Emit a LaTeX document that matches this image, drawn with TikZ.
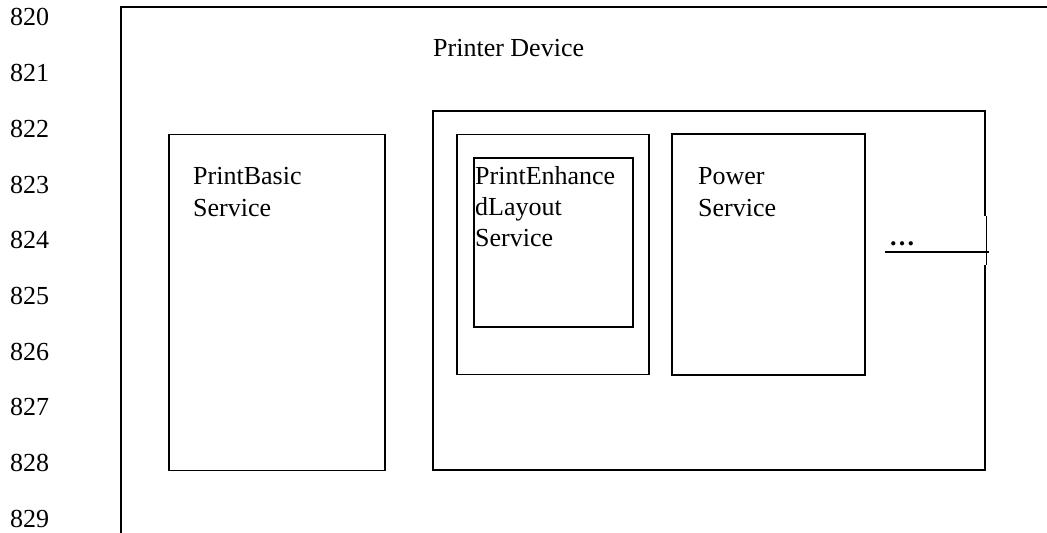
\documentclass[tikz,border=0pt]{standalone}
\usepackage{fontspec}
\setmainfont{Liberation Serif}
\usetikzlibrary{calc}

\tikzset{
  frame/.style={line width=1.6bp, line join=miter},
  box/.style={draw, line width=1.6bp, inner sep=0pt, outer sep=0pt},
  hollow/.style={inner sep=0pt, outer sep=0pt},
  label text/.style={inner sep=0pt, anchor=base west, font=\fontsize{26bp}{32bp}\selectfont},
  lnum/.style={label text},
}

\begin{document}
\begin{tikzpicture}[x=1bp, y=-1bp]
  \useasboundingbox (0,0) rectangle (1047,533);

  % line numbers in the margin
  \foreach \n [count=\i from 0] in {820,...,829}
    \node[lnum] (ln\n) at (10, 26+55.7*\i) {\n};

  % outer frame of the device (open to the right and bottom)
  \coordinate (devTR) at (1047,7);
  \coordinate (devTL) at (121,7);
  \coordinate (devBL) at (121,533);
  \draw[frame] (devTR) -- (devTL) -- (devBL);
  \node[label text] (devname) at (433,57) {Printer Device};

  % basic service
  \node[box, minimum width=216bp, minimum height=336bp] (basic) at (277,302.5) {};
  \node[label text] (basic1) at (193,185) {PrintBasic};
  \node[label text] (basic2) at (193,217) {Service};

  % group of optional services, right edge interrupted
  \node[hollow, minimum width=552bp, minimum height=359bp] (grp) at (709,290.5) {};
  \draw[frame] (grp.east |- 0,216) -- (grp.north east) -- (grp.north west)
    -- (grp.south west) -- (grp.south east) -- (grp.east |- 0,265);
  \draw[line width=0.8bp] ($(grp.east |- 0,216)+(1,0)$) -- ($(grp.east |- 0,265)+(1,0)$);

  % enhanced layout service and its wrapper
  \node[box, minimum width=192bp, minimum height=240bp] (wrap) at (553,254.5) {};
  \node[box, minimum width=159bp, minimum height=169bp] (enh) at (553.5,242.5) {};
  \node[label text] (enh1) at (475,185) {PrintEnhance};
  \node[label text] (enh2) at (475,216) {dLayout};
  \node[label text] (enh3) at (475,247) {Service};

  % power service
  \node[box, minimum width=193bp, minimum height=241bp] (power) at (768.5,254.5) {};
  \node[label text] (pow1) at (698,185) {Power};
  \node[label text] (pow2) at (698,217) {Service};

  % further services
  \node[label text] (more) at (889,246) {\textbf{…}};
  \coordinate (lineL) at (885,252);
  \coordinate (lineR) at (989,252);
  \draw[line width=1.6bp] (lineL) -- (lineR);
\end{tikzpicture}
\end{document}
